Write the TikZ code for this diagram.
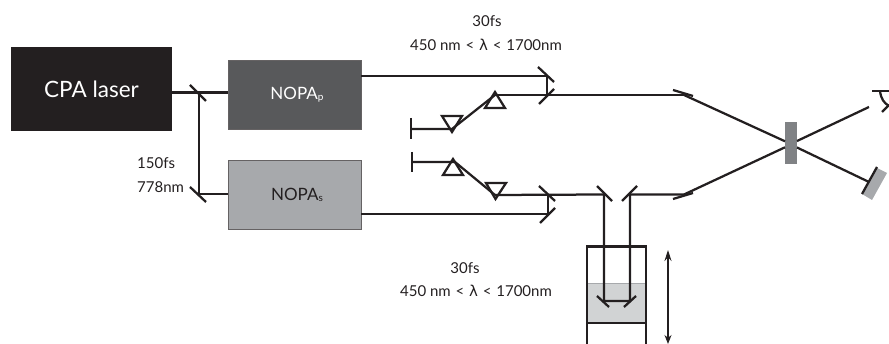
\documentclass[tikz,border=0pt]{standalone}
\usepackage{fontspec}
\setmainfont{Lato}
\newfontfamily\greekf{DejaVu Sans}
\definecolor{cpaK}{HTML}{231F20}
\definecolor{nopaP}{HTML}{58595B}
\definecolor{nopaS}{HTML}{A7A9AC}
\definecolor{sampleG}{HTML}{808285}
\definecolor{cellG}{HTML}{D1D3D4}
\usetikzlibrary{arrows.meta}
\tikzset{
  beam/.style={draw=cpaK,line width=2.25pt},
  optic/.style={draw=cpaK,line width=2.25pt},
  thinframe/.style={draw=cpaK,line width=2.25pt},
  boxn/.style={anchor=center,inner sep=0pt,minimum width=133pt,minimum height=69pt,draw=cpaK!70,line width=0.8pt},
  lab/.style={text=cpaK,font=\fontsize{15}{17}\selectfont,inner sep=0pt,anchor=center}
}
\newcommand{\subtxt}[1]{\raisebox{-1.5pt}{\fontsize{10}{11}\selectfont #1}}
\newcommand{\rangetxt}{450 nm\hspace{1pt} < \hspace{1pt}{\greekf\fontsize{15}{17}\selectfont λ}\hspace{1pt} < \hspace{1pt}1700nm}
\begin{document}
\begin{tikzpicture}[x=1pt,y=-1pt]
\useasboundingbox (0,0) rectangle (889,344);
% boxes
\node[fill=cpaK,minimum width=161pt,minimum height=84pt,inner sep=0pt,text=white,font=\fontsize{22.5}{26}\selectfont] (cpa) at (91.5,89) {CPA laser};
\node[boxn,fill=nopaP] (nopap) at (294.5,94.5) {};
\node[boxn,fill=nopaS] (nopas) at (294.5,195) {};
\node[text=white,font=\fontsize{17}{19}\selectfont,inner sep=0pt] (nopaplabel) at (297,94.5) {NOPA\subtxt{p}};
\node[text=cpaK,font=\fontsize{17}{19}\selectfont,inner sep=0pt] (nopaslabel) at (297,195) {NOPA\subtxt{s}};
% coordinates
\coordinate (split) at (199,92.5);
\coordinate (splitB) at (199,194);
\coordinate (pM1) at (547,75.7);
\coordinate (pM2) at (547,95);
\coordinate (pr1) at (495,95);
\coordinate (pr2) at (452,129);
\coordinate (stop1) at (411,129);
\coordinate (sM1) at (548,214);
\coordinate (sM2) at (548,194.7);
\coordinate (pr3) at (495,195);
\coordinate (pr4) at (455,162);
\coordinate (stop2) at (412,162);
\coordinate (dA) at (604,194.5);
\coordinate (dB) at (630,194.5);
\coordinate (dC) at (604,301);
\coordinate (dD) at (630,301);
\coordinate (gp) at (684,95);
\coordinate (gs) at (684,194.5);
\coordinate (det) at (869,107);
\coordinate (mir) at (869,182);
% sample
\fill[sampleG] (785,122) rectangle (797,164);
% delay stage
\fill[cellG] (587,283) rectangle (646,323);
\draw[thinframe] (587,344) -- (587,246.5) -- (646,246.5) -- (646,344);
\draw[thinframe] (587,323) -- (646,323);
\draw[nopaS,line width=0.8pt] (588,283) -- (645,283);
% beams
\draw[beam] (cpa.east |- split) -- (nopap.west |- split);
\draw[beam] (split) -- (splitB) -- (nopas.west |- splitB);
\draw[beam] (nopap.east |- pM1) -- (pM1) -- (pM2);
\draw[beam] (pr1) -- (gp);
\draw[beam] (pr1) -- (pr2) -- (stop1);
\draw[beam] (nopas.east |- sM1) -- (sM1) -- (sM2);
\draw[beam] (pr3) -- (dA) -- (dC) -- (dD) -- (dB) -- (gs);
\draw[beam] (pr3) -- (pr4) -- (stop2);
% crossing beams (the sample hides the middle)
\draw[beam] (gp) -- (785,141.3);
\draw[beam] (797,147.5) -- (mir);
\draw[beam] (gs) -- (785,147.3);
\draw[beam] (797,141) -- (det);
% mirrors
\draw[optic] (190,85) -- (206,101);
\draw[optic] (190,187) -- (206,202);
\draw[optic] (538,67) -- (554,82);
\draw[optic] (539,104) -- (554,89);
\draw[optic] (539,186) -- (555,201);
\draw[optic] (540,223) -- (555,208);
\draw[optic] (597,186) -- (612,201);
\draw[optic] (637,186) -- (622,201);
\draw[optic] (673,90) -- (693,96);
\draw[optic] (673,199) -- (693,193);
\draw[optic] (597,296) -- (609,307);
\draw[optic] (636,296) -- (624,307);
% stops
\draw[optic] (stop1 |- 0,118) -- (stop1 |- 0,139);
\draw[optic] (stop2 |- 0,152) -- (stop2 |- 0,172);
% prisms
\draw[optic,line join=miter] (495,92) -- (505,108) -- (485,108) -- cycle;
\draw[optic,line join=miter] (442,116) -- (462,116) -- (452,132) -- cycle;
\draw[optic,line join=miter] (453,159) -- (463,175) -- (443,175) -- cycle;
\draw[optic,line join=miter] (486,183) -- (506,183) -- (495.5,199) -- cycle;
% travel arrow
\coordinate (tr1) at (668,250);
\coordinate (tr2) at (668,344);
\draw[draw=cpaK,line width=1.1pt,{Stealth[length=11pt,width=7pt]}-{Stealth[length=9pt,width=7pt]}] (tr1) -- (tr2);
% end mirror
\fill[nopaS] (877,168) -- (887,173) -- (872,200) -- (862,194) -- cycle;
\draw[optic] (877,167) -- (862,194);
% detector
\draw[optic] (872,91) -- (889,91);
\draw[optic] (880,91) .. controls (881,99) and (884,103) .. (889,106);
\draw[optic] (882,112) -- (889,105);
% labels
\node[lab] (t1) at (487,21) {30fs};
\node[lab] (t2) at (486,45) {\rangetxt};
\node[lab] (t3) at (465,268) {30fs};
\node[lab] (t4) at (476,291) {\rangetxt};
\node[lab,anchor=west] (t5) at (137,163) {150fs};
\node[lab,anchor=west] (t6) at (137,187) {778nm};
\end{tikzpicture}
\end{document}
